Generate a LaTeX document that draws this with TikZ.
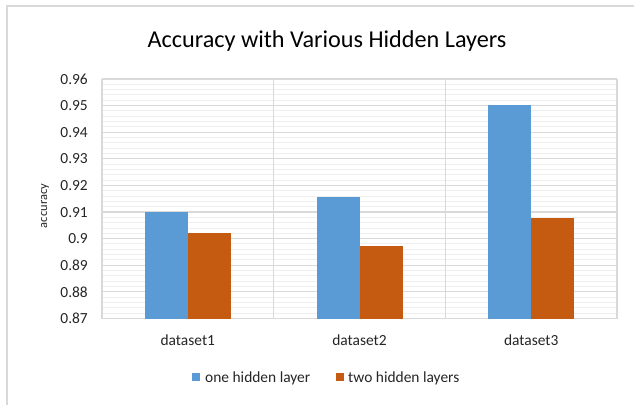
\documentclass[tikz,border=0pt]{standalone}
\usepackage{fontspec}
\setmainfont{Carlito}
\definecolor{barblue}{HTML}{5B9BD5}
\definecolor{barorange}{HTML}{C55A11}
\definecolor{gridmajor}{HTML}{D9D9D9}
\definecolor{gridminor}{HTML}{EFEFEF}
\definecolor{labeltext}{HTML}{262626}
\tikzset{
  ticklabel/.style={anchor=east, inner sep=0pt, font=\fontsize{15.5}{18}\selectfont, text=labeltext},
  catlabel/.style={anchor=center, inner sep=0pt, font=\fontsize{15.5}{18}\selectfont, text=labeltext},
  legtext/.style={anchor=west, inner sep=0pt, font=\fontsize{15.5}{18}\selectfont, text=labeltext},
  legkey/.style={minimum size=8bp, inner sep=0pt, draw=none},
  minorgrid/.style={draw=gridminor, line width=1bp},
  majorgrid/.style={draw=gridmajor, line width=1.2bp},
  frameline/.style={draw=gridmajor, line width=2bp},
}
\begin{document}
\begin{tikzpicture}[x=1bp,y=-1bp]
  \useasboundingbox[fill=white] (0,0) rectangle (634,405);
  % outer chart frame (left and top edges)
  \draw[frameline] (7,405) -- (7,6) -- (634,6);
  % plot area: x from 102 to 617, value 0.87 at y=318.5, 0.96 at y=79
  \pgfmathsetmacro{\ystep}{(318.5-79)/9}
  % minor grid every 0.002
  \foreach \k in {1,...,44}{
    \pgfmathsetmacro{\yy}{318.5-\k*\ystep/5}
    \draw[minorgrid] (102,\yy) -- (617,\yy);
  }
  % major grid every 0.01
  \foreach \k in {0,...,9}{
    \pgfmathsetmacro{\yy}{318.5-\k*\ystep}
    \draw[majorgrid] (102,\yy) -- (617,\yy);
  }
  % category dividers and plot edges
  \foreach \xx in {102,273.7,445.3,617}{
    \draw[majorgrid] (\xx,79) -- (\xx,318.5);
  }
  % tick labels
  \foreach \k/\lab in {0/0.87,1/0.88,2/0.89,3/0.9,4/0.91,5/0.92,6/0.93,7/0.94,8/0.95,9/0.96}{
    \pgfmathsetmacro{\yy}{318.5-\k*\ystep}
    \node[ticklabel] (tick\k) at (88,\yy) {\lab};
  }
  % bars: category centre, one hidden layer, two hidden layers
  \foreach \i/\cx/\va/\vb in {1/187.8/0.9102/0.9021,2/359.5/0.9157/0.8971,3/531.2/0.9502/0.9078}{
    \pgfmathsetmacro{\ya}{318.5-(\va-0.87)*100*\ystep}
    \pgfmathsetmacro{\yb}{318.5-(\vb-0.87)*100*\ystep}
    \fill[barblue] (\cx-43,318.5) rectangle (\cx,\ya);
    \fill[barorange] (\cx,318.5) rectangle (\cx+43,\yb);
    \node[catlabel] (cat\i) at (\cx,340) {dataset\i};
  }
  % title
  \node[inner sep=0pt, font=\fontsize{24.3}{28}\selectfont, text=black] (title) at (327,41) {Accuracy with Various Hidden Layers};
  % axis title
  \node[inner sep=0pt, rotate=90, font=\fontsize{12.5}{15}\selectfont, text=labeltext] (ytitle) at (45,206) {accuracy};
  % legend
  \node[legkey, fill=barblue] (keyone) at (196.2,377.2) {};
  \node[legtext] (legone) at (205,378) {one hidden layer};
  \node[legkey, fill=barorange] (keytwo) at (339.5,377.2) {};
  \node[legtext] (legtwo) at (348,378) {two hidden layers};
\end{tikzpicture}
\end{document}
